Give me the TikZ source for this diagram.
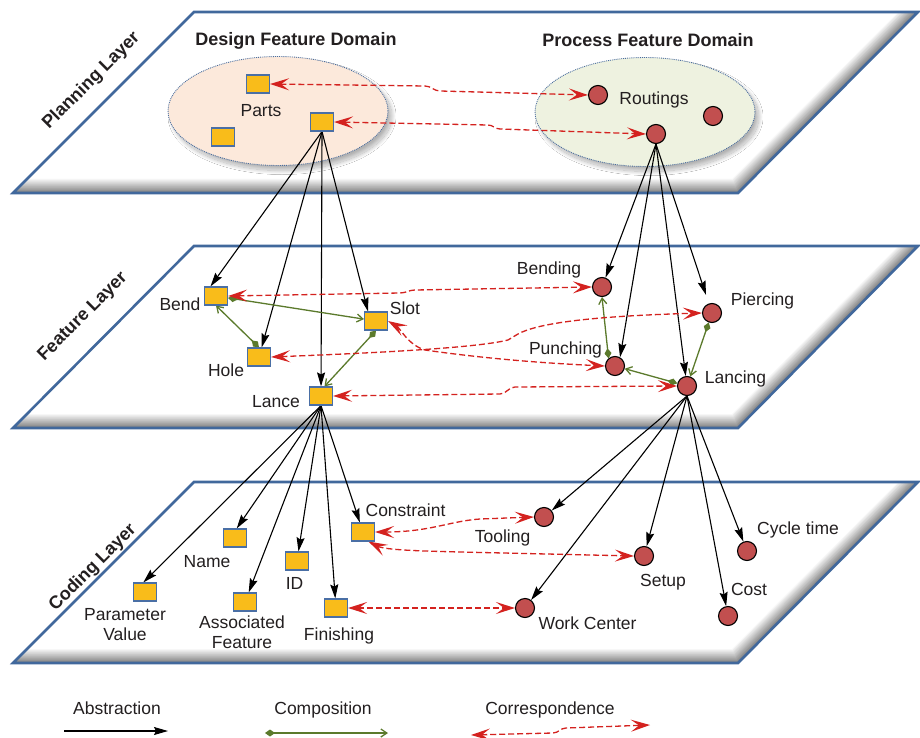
\documentclass[tikz,border=0pt]{standalone}
\usepackage{fontspec}
\setmainfont{Liberation Sans}
\usetikzlibrary{arrows.meta,shapes.geometric,shadows.blur}

\definecolor{layerblue}{HTML}{41689C}
\definecolor{boxfill}{HTML}{F9BC1A}
\definecolor{boxline}{HTML}{4A6FA5}
\definecolor{dotfill}{HTML}{C24F4F}
\definecolor{linkred}{HTML}{D4221F}
\definecolor{partgreen}{HTML}{5B7A2C}
\definecolor{designfill}{HTML}{FCE9DB}
\definecolor{processfill}{HTML}{EEF2E0}
\definecolor{domline}{HTML}{4B6E9E}
\definecolor{ink}{HTML}{231F20}

\pgfdeclarelayer{planes}
\pgfdeclarelayer{links}
\pgfsetlayers{planes,links,main}

\tikzset{
  plane/.style={draw=layerblue, line width=2.6pt, line join=miter},
  domoval/.style={ellipse, draw=domline, densely dotted, line width=0.9pt,
    minimum width=220pt, minimum height=109pt,
    blur shadow={shadow xshift=4pt, shadow yshift=-5pt, shadow blur radius=4pt,
      shadow blur steps=25, shadow opacity=30}},
  featbox/.style={rectangle, draw=boxline, fill=boxfill, line width=1.1pt,
    minimum width=23pt, minimum height=18pt, inner sep=0pt},
  procdot/.style={circle, draw=black, fill=dotfill, line width=1.1pt,
    minimum size=19pt, inner sep=0pt},
  lbl/.style={font=\fontsize{17.5}{20.5}\selectfont, text=ink, inner sep=0pt, align=center, anchor=base},
  ttl/.style={font=\bfseries\fontsize{18}{21}\selectfont, text=ink, inner sep=0pt},
  abstr/.style={draw=black, line width=1.1pt, -{Stealth[length=14pt,width=8pt,inset=2pt]}},
  compo/.style={draw=partgreen, line width=1.3pt,
    {Diamond[length=10pt,width=7pt]}-{Straight Barb[length=6pt,width=8pt]}},
  corresp/.style={draw=linkred, line width=1.3pt, dash pattern=on 6pt off 3pt,
    {Stealth[length=19pt,width=12pt,inset=8pt]}-{Stealth[length=19pt,width=12pt,inset=8pt]}},
}

\begin{document}
\begin{tikzpicture}[x=1pt,y=-1pt]
\useasboundingbox (0,0) rectangle (920,738);

% ---------- the three planes and the two domains ----------
\begin{pgfonlayer}{planes}
\fill[white] (0,0) rectangle (920,738);
\foreach \t/\b in {12/193,246/428,482/663}{
  \fill[white] (194,\t) -- (918,\t) -- (738,\b) -- (13,\b) -- cycle;
  \begin{scope}
    \clip (194,\t) -- (918,\t) -- (738,\b) -- (13,\b) -- cycle;
    \foreach \i in {1,...,14}{
      \pgfmathtruncatemacro\w{2*(15-\i)}
      \pgfmathtruncatemacro\c{3.5*\i}
      \draw[line width=\w pt, draw=black!\c, line join=miter] (918,\t) -- (738,\b) -- (13,\b);
    }
  \end{scope}
  \draw[plane] (194,\t) -- (918,\t) -- (738,\b) -- (13,\b) -- cycle;
}
\node[domoval, fill=designfill] (dfd) at (278,111) {};
\node[domoval, fill=processfill] (pfd) at (645,112) {};
\end{pgfonlayer}

% ---------- layer names ----------
\node[ttl, rotate=45] (planlbl) at (91.5,81) {Planning Layer};
\node[ttl, rotate=45] (featlbl) at (83,317) {Feature Layer};
\node[ttl, rotate=45] (codelbl) at (93,568) {Coding Layer};

% ---------- planning layer ----------
\node[ttl, anchor=base] (dfdt) at (296,46) {Design Feature Domain};
\node[ttl, anchor=base] (pfdt) at (648,46.5) {Process Feature Domain};
\node[featbox] (p1) at (258,84) {};
\node[featbox] (p2) at (322,122) {};
\node[featbox] (p3) at (223,137) {};
\node[lbl] (partst) at (261,117) {Parts};
\node[procdot] (r1) at (598,95) {};
\node[procdot] (r2) at (656,134) {};
\node[procdot] (r3) at (713,116) {};
\node[lbl] (routt) at (654,105) {Routings};

% ---------- feature layer ----------
\node[featbox] (bend) at (216,296) {};
\node[featbox] (slot) at (376,321) {};
\node[featbox] (hole) at (259,357) {};
\node[featbox] (lance) at (321,396) {};
\node[lbl] (bendt) at (180,310) {Bend};
\node[lbl] (slott) at (405,314) {Slot};
\node[lbl] (holet) at (226,376) {Hole};
\node[lbl] (lancet) at (276,407) {Lance};
\node[procdot] (bending) at (602,287) {};
\node[procdot] (pierce) at (712,313) {};
\node[procdot] (punch) at (615,366) {};
\node[procdot] (lancing) at (687,386) {};
\node[lbl] (bendingt) at (549,274.3) {Bending};
\node[lbl] (piercet) at (762.5,305) {Piercing};
\node[lbl] (puncht) at (565.5,354) {Punching};
\node[lbl] (lancingt) at (735.5,383) {Lancing};

% ---------- coding layer ----------
\node[featbox] (pv) at (145,592) {};
\node[featbox] (name) at (235,538) {};
\node[featbox] (af) at (245,602) {};
\node[featbox] (id) at (297,561) {};
\node[featbox] (fin) at (336,608) {};
\node[featbox] (cons) at (363,532) {};
\node[lbl, anchor=center] (pvt) at (125,624.7) {Parameter\\Value};
\node[lbl] (namet) at (207,567) {Name};
\node[lbl, anchor=center] (aft) at (242,632) {Associated\\Feature};
\node[lbl] (idt) at (294.5,589) {ID};
\node[lbl] (fint) at (339,640) {Finishing};
\node[lbl] (const) at (405.5,516) {Constraint};
\node[procdot] (tool) at (544,517) {};
\node[procdot] (setup) at (644,556) {};
\node[procdot] (cyc) at (747,551) {};
\node[procdot] (cost) at (728,616) {};
\node[procdot] (wc) at (525,608) {};
\node[lbl] (toolt) at (502.5,542) {Tooling};
\node[lbl] (setupt) at (663,586) {Setup};
\node[lbl] (cyct) at (798,534) {Cycle time};
\node[lbl] (costt) at (749,595) {Cost};
\node[lbl] (wct) at (587.5,629) {Work Center};

% ---------- legend ----------
\node[lbl] (legA) at (117,714) {Abstraction};
\node[lbl] (legC) at (323,714) {Composition};
\node[lbl] (legR) at (550,714) {Correspondence};
\coordinate (legA1) at (64,731);
\coordinate (legA2) at (168,731);
\coordinate (legC1) at (265,733);
\coordinate (legC2) at (388,733);
\coordinate (legR1) at (471,735);
\coordinate (legR2) at (650,725);

\begin{pgfonlayer}{links}
% abstraction
\draw[abstr] (p2.south) -- (bend.120);
\draw[abstr] (p2.south) -- (hole);
\draw[abstr] (p2.south) -- (lance);
\draw[abstr] (p2.south) -- (slot.130);
\draw[abstr] (r2.south) -- (bending);
\draw[abstr] (r2.south) -- (punch.60);
\draw[abstr] (r2.south) -- (lancing);
\draw[abstr, shorten >=9pt] (r2.south) -- (pierce);
\draw[abstr] (lance.south) -- (pv.100);
\draw[abstr] (lance.south) -- (name.80);
\draw[abstr] (lance.south) -- (af);
\draw[abstr] (lance.south) -- (id);
\draw[abstr] (lance.south) -- (fin);
\draw[abstr] (lance.south) -- (cons);
\draw[abstr] (lancing.south) -- (tool);
\draw[abstr] (lancing.south) -- (wc);
\draw[abstr] (lancing.south) -- (setup);
\draw[abstr] (lancing.south) -- (cost);
\draw[abstr] (lancing.south) -- (cyc);
% composition
\draw[compo] (bend) -- (slot);
\draw[compo] (hole.north) -- (bend.south);
\draw[compo] (slot.south) -- (lance.70);
\draw[compo] (punch.130) -- (bending.south);
\draw[compo] (lancing) -- (punch);
\draw[compo] (pierce) -- (lancing);
% correspondence
\draw[corresp] (p1.east) -- (425,86) to[out=0,in=180] (440,91) -- (r1.west);
\draw[corresp] (p2.east) -- (488,125) to[out=0,in=180] (500,129) -- (r2.west);
\draw[corresp] (bend.east) -- (400,293) to[out=0,in=180] (415,290) -- (bending.west);
\draw[corresp] (hole.east) .. controls (400,352) and (480,347) .. (508,340)
  -- (518,334) .. controls (540,322) and (600,316) .. (pierce.west);
\draw[corresp] (slot.east) .. controls (400,328) and (408,345) .. (425,350)
  .. controls (480,358) and (540,363) .. (punch.west);
\draw[corresp] (lance.east) -- (500,394) to[out=0,in=180] (515,387) -- (lancing.west);
\draw[corresp] (cons.east) .. controls (430,532) and (450,521) .. (480,519) -- (tool.west);
\draw[corresp] (cons.-60) .. controls (385,550) and (420,551) .. (460,552) -- (setup.west);
\draw[corresp] (fin.east) -- (wc.west);
% legend samples
\draw[abstr] (legA1) -- (legA2);
\draw[compo] (legC1) -- (legC2);
\draw[corresp] (legR1) -- (553,733) to[out=0,in=180] (566,728) -- (legR2);
\end{pgfonlayer}
\end{tikzpicture}
\end{document}
